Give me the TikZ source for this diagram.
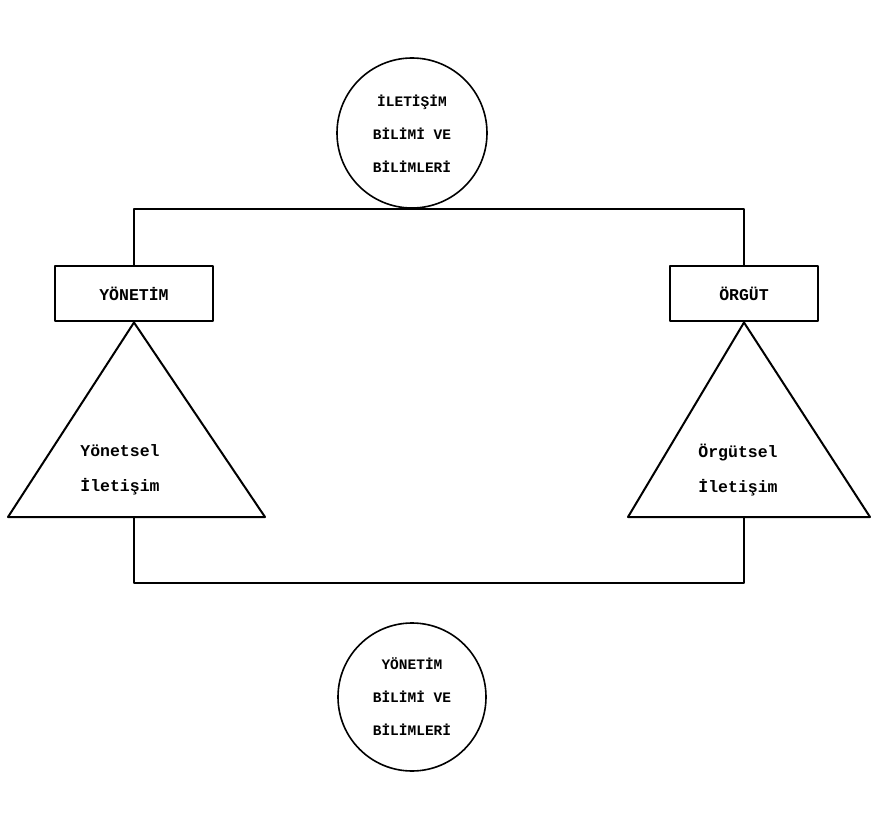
\documentclass[tikz,border=0pt]{standalone}
\usepackage{fontspec}
\newfontfamily\typewriter{Liberation Mono}
\begin{document}
\begin{tikzpicture}[x=1pt,y=-1pt,
  line join=round,
  outline/.style={draw=black,line width=2pt},
  bubble/.style={draw=black,line width=1.6pt,circle,minimum size=#1,inner sep=0pt},
  label box/.style={draw=black,line width=2pt,minimum width=#1,minimum height=55pt,inner sep=0pt,
    font=\typewriter\bfseries\fontsize{16.5}{16.5}\selectfont},
  bubble text/.style={align=center,font=\typewriter\bfseries\fontsize{14.5}{33}\selectfont},
  wedge text/.style={align=left,font=\typewriter\bfseries\fontsize{16.5}{35}\selectfont}]
\useasboundingbox (0,0) rectangle (873,826);

% the two disciplines
\node[bubble=150pt] (topc) at (412,133) {};
\node[bubble text] (toptext) at (412,134) {İLETİŞİM\\BİLİMİ VE\\BİLİMLERİ};
\node[bubble=148pt] (botc) at (412,697) {};
\node[bubble text] (bottext) at (412,697) {YÖNETİM\\BİLİMİ VE\\BİLİMLERİ};

% the two fields
\node[label box=158pt] (lbox) at (134,294) {YÖNETİM};
\node[label box=148pt] (rbox) at (744,294) {ÖRGÜT};

% triangles under the boxes
\coordinate (lbl) at (8,517);
\coordinate (lbr) at (265,517);
\coordinate (rbl) at (628,517);
\coordinate (rbr) at (870,517);
\coordinate (lbase) at (134,517);
\coordinate (rbase) at (744,517);
\draw[outline] (lbox.south) -- (lbr) -- (lbl) -- cycle;
\draw[outline] (rbox.south) -- (rbr) -- (rbl) -- cycle;
\node[wedge text] (ltext) at (120,470) {Yönetsel\\İletişim};
\node[wedge text] (rtext) at (738,470) {Örgütsel\\İletişim};

% connectors
\draw[outline] (lbox.north) |- (topc.south) -| (rbox.north);
\draw[outline] (lbase) -- ++(0,66) -| (rbase);
\end{tikzpicture}
\end{document}
